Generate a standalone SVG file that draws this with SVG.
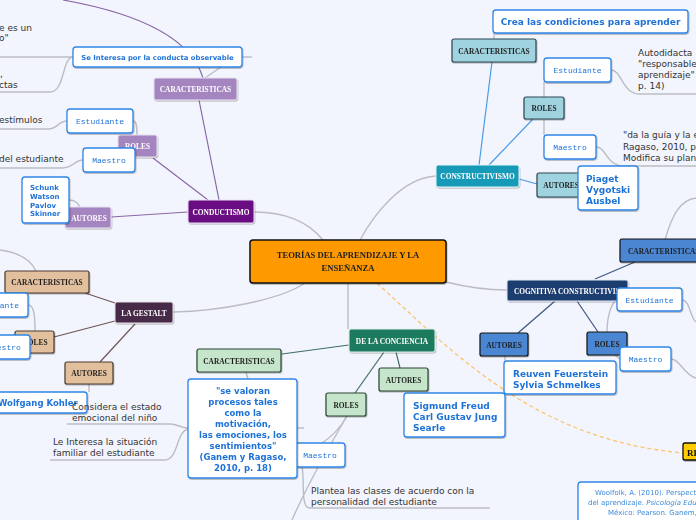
<svg xmlns="http://www.w3.org/2000/svg" width="696" height="520" viewBox="0 0 696 520">
<defs>
<filter id="sh" x="-10%" y="-10%" width="120%" height="130%"><feDropShadow dx="0.6" dy="1" stdDeviation="0.6" flood-color="#000" flood-opacity="0.3"/></filter>
<style>
.hd{font-family:"Liberation Serif","DejaVu Serif",serif;font-size:7.4px;font-weight:bold;text-anchor:middle}
.wt{fill:#ffffff}
.dk{fill:#1e1e1e}
.tb{fill:#ffffff;stroke:#2f86e6;stroke-width:1.3}
.bt{font-family:"DejaVu Sans",Verdana,sans-serif;font-weight:bold;fill:#1f72d6}
.mo{font-family:"Liberation Mono","DejaVu Sans Mono",monospace;font-size:8px;fill:#1f72d6;text-anchor:middle}
.pl{font-family:"DejaVu Sans",Verdana,sans-serif;font-size:9px;fill:#333333}
.gl{fill:none;stroke:#bcbcc4;stroke-width:1.4}
.pu{fill:none;stroke:#8a68a8;stroke-width:1.2}
.bl{fill:none;stroke:#4a9aea;stroke-width:1.2}
.nv{fill:none;stroke:#3f5683;stroke-width:1.2}
.br{fill:none;stroke:#6e5656;stroke-width:1.2}
.gr{fill:none;stroke:#3f6e62;stroke-width:1.2}
.c1{fill:#a485bf;stroke:#e8e0f0;stroke-width:1}
.c2{fill:#9fd3df;stroke:#2e4650;stroke-width:1.2}
.c3{fill:#4b86d3;stroke:#111111;stroke-width:1.2}
.c4{fill:#e2c09e;stroke:#4a3a30;stroke-width:1.2}
.c5{fill:#c6e6cb;stroke:#2a4535;stroke-width:1.2}
</style>
</defs>
<rect x="0" y="0" width="696" height="520" fill="#f2f5fd"/>

<g id="connectors">
<path class="gl" d="M323,240 C310,224 290,212 254,212"/>
<path class="gl" d="M360,240 C372,218 400,178 436,176"/>
<path class="gl" d="M305,283 C280,300 220,311 173,312"/>
<path class="gl" d="M348,283 L348,329"/>
<path class="gl" d="M446,282 C470,288 490,290 507,290"/>
<path d="M377,283 C460,360 540,440 683,453" fill="none" stroke="#fbc46e" stroke-width="1.3" stroke-dasharray="4,3"/>
<path class="pu" d="M63,0 C130,12 190,35 203,78"/>
<path class="pu" d="M199,100 L219,200"/>
<path class="pu" d="M153,158 L208,200"/>
<path class="pu" d="M111,217 L188,212"/>
<path class="gl" d="M73,57 C64,57 62,57 55,57 L0,57"/>
<path class="gl" d="M73,57 C62,57 65,92 50,92 L0,92"/>
<path class="gl" d="M205,78 L221,67"/>
<path class="gl" d="M242,57 L252,57"/>
<path class="gl" d="M67,121 C58,121 58,129 48,129 L0,129"/>
<path class="gl" d="M83,160 C74,160 74,168 62,168 L0,168"/>
<path class="gl" d="M133,121 C137,121 137,128 137,135"/>
<path class="gl" d="M69,200 C76,200 78,204 80,207"/>
<path class="gl" d="M494,33 L494,39"/>
<path class="bl" d="M492,62 L479,165"/>
<path class="bl" d="M533,119 L489,165"/>
<path class="bl" d="M519,179 L537,184"/>
<path class="gl" d="M544,82 L544,97"/>
<path class="gl" d="M544,119 L544,135"/>
<path class="gl" d="M611,70 C622,70 622,94 640,94 L696,94"/>
<path class="gl" d="M596,147 C607,147 605,166 625,166 L696,166"/>
<path class="gl" d="M665,240 C672,215 680,200 696,198"/>
<path class="nv" d="M595,279 L635,262"/>
<path class="nv" d="M555,301 L518,333"/>
<path class="nv" d="M577,301 L598,332"/>
<path class="gl" d="M505,356 L505,361"/>
<path class="gl" d="M607,332 C607,315 612,302 617,300"/>
<path class="gl" d="M615,355 L621,360"/>
<path class="gl" d="M682,300 C690,300 690,318 696,322"/>
<path class="gl" d="M671,359 C680,359 684,375 696,378"/>
<path class="br" d="M115,303 L85,293"/>
<path class="br" d="M115,321 L54,337"/>
<path class="br" d="M135,324 L100,362"/>
<path class="gl" d="M36,271 C30,258 15,252 0,250"/>
<path class="gl" d="M28,305 C34,305 35,315 35,331"/>
<path class="gl" d="M89,384 L89,392"/>
<path class="gr" d="M349,345 L282,354"/>
<path class="gr" d="M384,352 L355,393"/>
<path class="gr" d="M396,352 L400,368"/>
<path class="gl" d="M246,372 L248,379"/>
<path class="gl" d="M347,416 C340,428 330,438 322,443"/>
<path class="gl" d="M347,416 C330,445 305,490 292,520"/>
<path class="gl" d="M302,467 C305,480 300,508 310,508 L490,508"/>
<path class="gl" d="M188,428 C180,428 178,424 170,424 L67,424"/>
<path class="gl" d="M188,429 C176,432 178,460 165,460 L50,460"/>
<path class="gl" d="M297,428 L304,428"/>
</g>

<g id="texts-left">
<text class="pl" x="-1" y="31">e es un</text>
<text class="pl" x="-1" y="41">o"</text>
<text class="pl" x="0" y="77">,</text>
<text class="pl" x="-1" y="88">ctas</text>
<text class="pl" x="-1" y="123">estímulos</text>
<text class="pl" x="-1" y="162">del estudiante</text>
</g>

<g id="central" filter="url(#sh)">
<rect x="250" y="240" width="196" height="43" rx="3" fill="#ff9900" stroke="#111" stroke-width="1.5"/>
<text class="hd dk" x="348" y="258" style="font-size:8.6px">TEORÍAS DEL APRENDIZAJE Y LA</text>
<text class="hd dk" x="348" y="270.5" style="font-size:8.6px">ENSEÑANZA</text>
</g>

<g id="conductismo" filter="url(#sh)">
<rect x="188" y="200" width="66" height="23" rx="2" fill="#6b0f82" stroke="#e8e0f0"/>
<text class="hd wt" x="221" y="214.5">CONDUCTISMO</text>
</g>
<g id="cond-caract" filter="url(#sh)">
<rect class="c1" x="154" y="78" width="83" height="22" rx="2"/>
<text class="hd wt" x="195.5" y="92">CARACTERISTICAS</text>
</g>
<g id="cond-interesa" filter="url(#sh)">
<rect class="tb" x="73" y="47" width="169" height="20" rx="3"/>
<text class="bt" x="157.5" y="60" text-anchor="middle" font-size="6.9">Se Interesa por la conducta observable</text>
</g>
<g id="cond-roles" filter="url(#sh)">
<rect class="c1" x="118" y="135" width="39" height="22" rx="2"/>
<text class="hd wt" x="137.5" y="149">ROLES</text>
</g>
<g id="cond-estudiante" filter="url(#sh)">
<rect class="tb" x="67" y="109" width="66" height="24" rx="3"/>
<text class="mo" x="100" y="124">Estudiante</text>
</g>
<g id="cond-maestro" filter="url(#sh)">
<rect class="tb" x="83" y="148" width="52" height="24" rx="3"/>
<text class="mo" x="109" y="163">Maestro</text>
</g>
<g id="cond-autores" filter="url(#sh)">
<rect class="c1" x="65" y="207" width="46" height="21" rx="2"/>
<text class="hd wt" x="89" y="220.5">AUTORES</text>
</g>
<g id="cond-schunk" filter="url(#sh)">
<rect class="tb" x="22" y="177" width="47" height="46" rx="3"/>
<text class="bt" font-size="7" x="30" y="190">Schunk</text>
<text class="bt" font-size="7" x="30" y="199">Watson</text>
<text class="bt" font-size="7" x="30" y="207.5">Pavlov</text>
<text class="bt" font-size="7" x="30" y="216">Skinner</text>
</g>

<g id="constructivismo" filter="url(#sh)">
<rect x="436" y="165" width="83" height="22" rx="2" fill="#169ab7" stroke="#e6f4f8"/>
<text class="hd wt" x="477.5" y="179">CONSTRUCTIVISMO</text>
</g>
<g id="cons-caract" filter="url(#sh)">
<rect class="c2" x="452" y="39" width="84" height="23" rx="2"/>
<text class="hd dk" x="494" y="53.5">CARACTERISTICAS</text>
</g>
<g id="cons-crea" filter="url(#sh)">
<rect class="tb" x="493" y="10" width="195" height="23" rx="3"/>
<text class="bt" x="590.5" y="25" text-anchor="middle" font-size="9">Crea las condiciones para aprender</text>
</g>
<g id="cons-roles" filter="url(#sh)">
<rect class="c2" x="524" y="97" width="40" height="22" rx="2"/>
<text class="hd dk" x="544" y="111">ROLES</text>
</g>
<g id="cons-estudiante" filter="url(#sh)">
<rect class="tb" x="544" y="58" width="67" height="24" rx="3"/>
<text class="mo" x="577.5" y="73">Estudiante</text>
</g>
<text class="pl" x="638" y="56">Autodidacta</text>
<text class="pl" x="638" y="67">"responsable de</text>
<text class="pl" x="638" y="78">aprendizaje" (Ganem</text>
<text class="pl" x="638" y="89">p. 14)</text>
<g id="cons-maestro" filter="url(#sh)">
<rect class="tb" x="544" y="135" width="52" height="24" rx="3"/>
<text class="mo" x="570" y="150">Maestro</text>
</g>
<text class="pl" x="623" y="138">"da la guía y la enseñanza</text>
<text class="pl" x="623" y="150">Ragaso, 2010, p. 14)</text>
<text class="pl" x="623" y="161">Modifica su planeación</text>
<g id="cons-autores" filter="url(#sh)">
<rect class="c2" x="537" y="173" width="52" height="24" rx="2"/>
<text class="hd dk" x="561" y="188">AUTORES</text>
</g>
<g id="cons-piaget" filter="url(#sh)">
<rect class="tb" x="578" y="166" width="60" height="44" rx="3"/>
<text class="bt" font-size="9" x="586" y="182">Piaget</text>
<text class="bt" font-size="9" x="586" y="193">Vygotski</text>
<text class="bt" font-size="9" x="586" y="204">Ausbel</text>
</g>

<g id="cognitiva" filter="url(#sh)">
<rect x="507" y="280" width="121" height="21" rx="2" fill="#1f3e70" stroke="#e0e6f0"/>
<text class="hd wt" x="514" y="293.5" style="text-anchor:start">COGNITIVA CONSTRUCTIVISTA</text>
</g>
<g id="cog-caract" filter="url(#sh)">
<rect class="c3" x="620" y="239" width="90" height="23" rx="2"/>
<text class="hd dk" x="628" y="253.5" style="text-anchor:start">CARACTERISTICAS</text>
</g>
<g id="cog-estudiante" filter="url(#sh)">
<rect class="tb" x="617" y="288" width="65" height="23" rx="3"/>
<text class="mo" x="649.5" y="302.5">Estudiante</text>
</g>
<g id="cog-roles" filter="url(#sh)">
<rect class="c3" x="587" y="332" width="40" height="23" rx="2"/>
<text class="hd dk" x="607" y="346.5">ROLES</text>
</g>
<g id="cog-maestro" filter="url(#sh)">
<rect class="tb" x="620" y="347" width="51" height="24" rx="3"/>
<text class="mo" x="645.5" y="362">Maestro</text>
</g>
<g id="cog-autores" filter="url(#sh)">
<rect class="c3" x="480" y="333" width="48" height="23" rx="2"/>
<text class="hd dk" x="504" y="347.5">AUTORES</text>
</g>
<g id="cog-reuven" filter="url(#sh)">
<rect class="tb" x="504" y="361" width="112" height="33" rx="3"/>
<text class="bt" font-size="9" x="513" y="377">Reuven Feuerstein</text>
<text class="bt" font-size="9" x="513" y="388">Sylvia Schmelkes</text>
</g>

<g id="gestalt" filter="url(#sh)">
<rect x="115" y="302" width="58" height="21" rx="2" fill="#472b46" stroke="#e6e0e6"/>
<text class="hd wt" x="144" y="315.5">LA GESTALT</text>
</g>
<g id="ges-caract" filter="url(#sh)">
<rect class="c4" x="5" y="271" width="84" height="22" rx="2"/>
<text class="hd dk" x="47" y="285">CARACTERISTICAS</text>
</g>
<g id="ges-roles" filter="url(#sh)">
<rect class="c4" x="15" y="331" width="39" height="22" rx="2"/>
<text class="hd dk" x="35" y="345">ROLES</text>
</g>
<g id="ges-estudiante" filter="url(#sh)">
<rect class="tb" x="-38" y="293" width="66" height="24" rx="3"/>
<text class="mo" x="-5" y="308">Estudiante</text>
</g>
<g id="ges-maestro" filter="url(#sh)">
<rect class="tb" x="-22" y="335" width="52" height="24" rx="3"/>
<text class="mo" x="4" y="350">Maestro</text>
</g>
<g id="ges-autores" filter="url(#sh)">
<rect class="c4" x="65" y="362" width="48" height="22" rx="2"/>
<text class="hd dk" x="89" y="376">AUTORES</text>
</g>
<g id="ges-wolfgang" filter="url(#sh)">
<rect class="tb" x="-10" y="392" width="97" height="21" rx="3"/>
<text class="bt" font-size="8.5" x="-2" y="406">Wolfgang Kohler</text>
</g>

<g id="conciencia" filter="url(#sh)">
<rect x="349" y="329" width="86" height="23" rx="2" fill="#1d7a5e" stroke="#e0f0ea"/>
<text class="hd wt" x="392" y="343.5">DE LA CONCIENCIA</text>
</g>
<g id="con-caract" filter="url(#sh)">
<rect class="c5" x="197" y="349" width="84" height="23" rx="2"/>
<text class="hd dk" x="239" y="363.5">CARACTERISTICAS</text>
</g>
<g id="con-autores" filter="url(#sh)">
<rect class="c5" x="379" y="368" width="49" height="23" rx="2"/>
<text class="hd dk" x="403.5" y="382.5">AUTORES</text>
</g>
<g id="con-roles" filter="url(#sh)">
<rect class="c5" x="326" y="393" width="40" height="23" rx="2"/>
<text class="hd dk" x="346" y="407.5">ROLES</text>
</g>
<g id="con-maestro" filter="url(#sh)">
<rect class="tb" x="295" y="443" width="50" height="24" rx="3"/>
<text class="mo" x="320" y="458">Maestro</text>
</g>
<g id="con-valoran" filter="url(#sh)">
<rect class="tb" x="188" y="379" width="109" height="99" rx="3"/>
<g class="bt" font-size="8.5" text-anchor="middle">
<text x="243" y="394">"se valoran</text>
<text x="243" y="405">procesos tales</text>
<text x="243" y="416">como la</text>
<text x="243" y="427">motivación,</text>
<text x="243" y="438">las emociones, los</text>
<text x="243" y="449">sentimientos"</text>
<text x="243" y="460">(Ganem y Ragaso,</text>
<text x="243" y="471">2010, p. 18)</text>
</g>
</g>
<g id="con-sigmund" filter="url(#sh)">
<rect class="tb" x="404" y="393" width="101" height="44" rx="3"/>
<text class="bt" font-size="9" x="413" y="409">Sigmund Freud</text>
<text class="bt" font-size="9" x="413" y="420">Carl Gustav Jung</text>
<text class="bt" font-size="9" x="413" y="431">Searle</text>
</g>
<text class="pl" x="72" y="410">Considera el estado</text>
<text class="pl" x="72" y="421">emocional del niño</text>
<text class="pl" x="53" y="445">Le Interesa la situación</text>
<text class="pl" x="53" y="456">familiar del estudiante</text>
<text class="pl" x="311" y="494">Plantea las clases de acuerdo con la</text>
<text class="pl" x="311" y="505">personalidad del estudiante</text>

<g id="referencias" filter="url(#sh)">
<rect x="683" y="443" width="40" height="17" rx="2" fill="#ffcc00" stroke="#111" stroke-width="1.3"/>
<text x="687" y="455.5" font-family="Liberation Serif,serif" font-weight="bold" font-size="9" fill="#111">REFERENCIAS</text>
</g>
<g id="ref-box" filter="url(#sh)">
<rect class="tb" x="578" y="482" width="140" height="50" rx="3"/>
<g font-family="DejaVu Sans,Verdana,sans-serif" font-size="7" fill="#3d8ad8">
<text x="595" y="495">Woolfolk, A. (2010). Perspectivas</text>
<text x="588" y="505">del aprendizaje. <tspan font-style="italic">Psicología Educativa</tspan></text>
<text x="608" y="515">México: Pearson. Ganem, P.</text>
</g>
</g>
</svg>
